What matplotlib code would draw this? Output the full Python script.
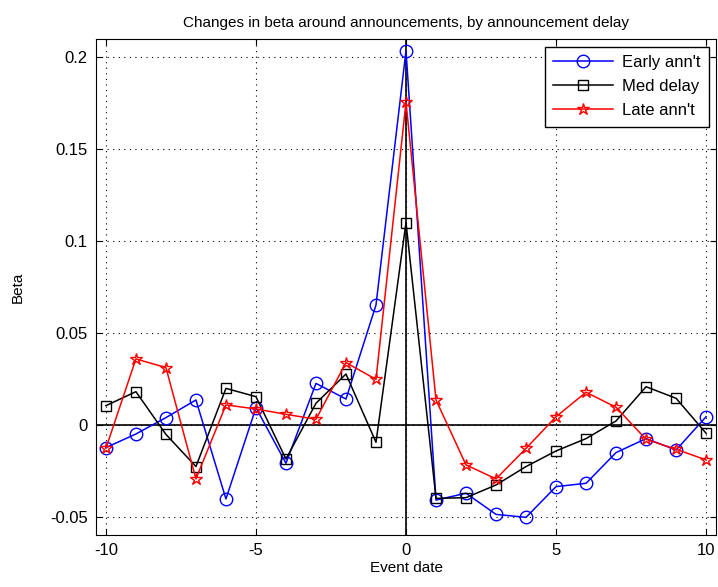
import numpy as np
import matplotlib
matplotlib.use('Agg')
import matplotlib.pyplot as plt

plt.rcParams['font.family'] = ['Liberation Sans', 'DejaVu Sans']

# 事件日
event_days = list(range(-10, 11))

early = [-0.0123, -0.0049, 0.0040, 0.0136, -0.0402, 0.0094, -0.0208, 0.0226, 0.0141, 0.0652,
         0.2034, -0.0408, -0.0371, -0.0486, -0.0502, -0.0335, -0.0317, -0.0150, -0.0074, -0.0136, 0.0045]
med = [0.0105, 0.0181, -0.0051, -0.0226, 0.0199, 0.0154, -0.0185, 0.0118, 0.0277, -0.0094,
       0.1100, -0.0399, -0.0395, -0.0326, -0.0226, -0.0141, -0.0074, 0.0022, 0.0208, 0.0145, -0.0045]
late = [-0.0127, 0.0359, 0.0312, -0.0293, 0.0109, 0.0087, 0.0058, 0.0031, 0.0339, 0.0248,
        0.1754, 0.0136, -0.0217, -0.0293, -0.0127, 0.0045, 0.0178, 0.0096, -0.0078, -0.0132, -0.0190]

xticks = [-10, -5, 0, 5, 10]
yticks = [-0.05, 0, 0.05, 0.1, 0.15, 0.2]
ytick_labels = ['-0.05', '0', '0.05', '0.1', '0.15', '0.2']

fig = plt.figure(figsize=(7.18, 5.87), dpi=100)
ax = fig.add_axes([96 / 718, 52 / 587, 620 / 718, 496 / 587])

ax.axhline(0, color='black', linewidth=1.2, zorder=1)
ax.axvline(0, color='black', linewidth=1.2, zorder=1)

ax.plot(event_days, early, color='blue', linewidth=1.1, marker='o', markersize=9,
        markerfacecolor='none', markeredgecolor='blue', markeredgewidth=1.0, label="Early ann't", zorder=3)
ax.plot(event_days, med, color='black', linewidth=1.1, marker='s', markersize=7.5,
        markerfacecolor='none', markeredgecolor='black', markeredgewidth=1.0, label='Med delay', zorder=3)
ax.plot(event_days, late, color='red', linewidth=1.1, marker='*', markersize=9,
        markerfacecolor='none', markeredgecolor='red', markeredgewidth=1.0, label="Late ann't", zorder=3)

ax.set_xlim(-10.33, 10.33)
ax.set_ylim(-0.0598, 0.2098)
ax.set_xticks(xticks)
ax.set_xticklabels([str(t) for t in xticks])
ax.set_yticks(yticks)
ax.set_yticklabels(ytick_labels)
ax.tick_params(direction='in', top=True, right=True, labelsize=12, length=4, pad=6)
ax.grid(True, linestyle=(0, (1, 4)), color='black', linewidth=0.8)

ax.set_title('Changes in beta around announcements, by announcement delay', fontsize=11, pad=9)
ax.set_xlabel('Event date', fontsize=11, labelpad=2)
ax.set_ylabel('Beta', fontsize=11, labelpad=18)

leg = ax.legend(loc='upper right', fontsize=12, handlelength=3.6, fancybox=False,
                framealpha=1, edgecolor='black', borderaxespad=0.45, labelspacing=0.55,
                borderpad=0.5, handletextpad=0.5)
leg.get_frame().set_linewidth(1.0)

fig.savefig('out.png', dpi=100)
